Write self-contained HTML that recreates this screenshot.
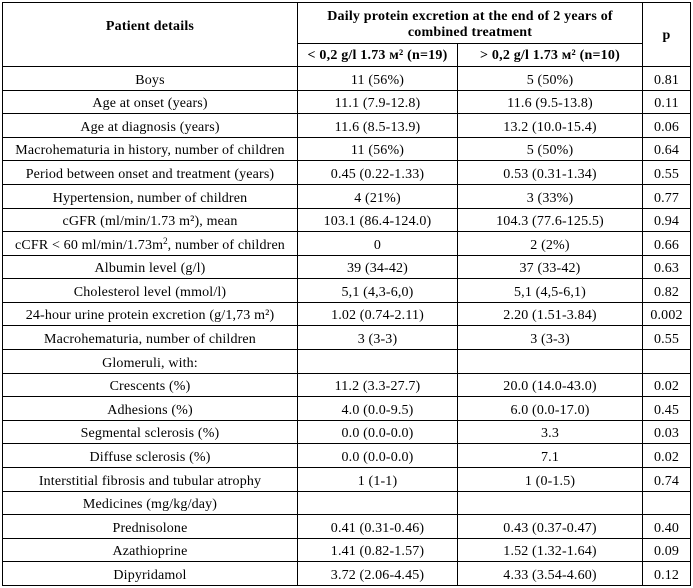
<!DOCTYPE html>
<html><head><meta charset="utf-8">
<style>
html,body{margin:0;padding:0;background:#fff;}
body{width:693px;height:588px;position:relative;overflow:hidden;font-family:"Liberation Serif","Times New Roman",serif;font-size:14px;letter-spacing:0.15px;color:#000;}
.h{position:absolute;height:1px;background:#000;}
.v{position:absolute;width:1px;background:#000;}
.r{position:absolute;left:0;width:693px;}
.r span{position:absolute;top:2px;height:100%;text-align:center;white-space:nowrap;display:flex;align-items:center;justify-content:center;}
.c1{left:3px;width:294px;}
.c2{left:298px;width:159px;}
.c3{left:458px;width:184px;}
.c4{left:643px;width:47px;}
.t{position:absolute;text-align:center;white-space:nowrap;font-weight:bold;line-height:16px;letter-spacing:0.2px;}
.sp{font-size:9px;position:relative;top:-5px;letter-spacing:0;}
</style></head><body>
<div class="v" style="left:2px;top:2px;height:584px"></div>
<div class="v" style="left:297px;top:2px;height:584px"></div>
<div class="v" style="left:457px;top:43px;height:543px"></div>
<div class="v" style="left:642px;top:2px;height:584px"></div>
<div class="v" style="left:690px;top:2px;height:584px"></div>
<div class="h" style="left:2px;width:689px;top:2px"></div>
<div class="h" style="left:297px;width:346px;top:43px"></div>
<div class="h" style="left:2px;width:689px;top:66px"></div>
<div class="h" style="left:2px;width:689px;top:90px"></div>
<div class="h" style="left:2px;width:689px;top:113px"></div>
<div class="h" style="left:2px;width:689px;top:137px"></div>
<div class="h" style="left:2px;width:689px;top:160px"></div>
<div class="h" style="left:2px;width:689px;top:184px"></div>
<div class="h" style="left:2px;width:689px;top:208px"></div>
<div class="h" style="left:2px;width:689px;top:231px"></div>
<div class="h" style="left:2px;width:689px;top:255px"></div>
<div class="h" style="left:2px;width:689px;top:278px"></div>
<div class="h" style="left:2px;width:689px;top:302px"></div>
<div class="h" style="left:2px;width:689px;top:325px"></div>
<div class="h" style="left:2px;width:689px;top:349px"></div>
<div class="h" style="left:2px;width:689px;top:373px"></div>
<div class="h" style="left:2px;width:689px;top:396px"></div>
<div class="h" style="left:2px;width:689px;top:420px"></div>
<div class="h" style="left:2px;width:689px;top:443px"></div>
<div class="h" style="left:2px;width:689px;top:467px"></div>
<div class="h" style="left:2px;width:689px;top:491px"></div>
<div class="h" style="left:2px;width:689px;top:514px"></div>
<div class="h" style="left:2px;width:689px;top:538px"></div>
<div class="h" style="left:2px;width:689px;top:561px"></div>
<div class="h" style="left:2px;width:689px;top:585px"></div>

<div class="t" style="left:3px;width:294px;top:19px">Patient details</div>
<div class="t" style="left:298px;width:344px;top:9px">Daily protein excretion at the end of 2 years of</div>
<div class="t" style="left:298px;width:344px;top:25px">combined treatment</div>
<div class="t" style="left:643px;width:47px;top:28px">p</div>
<div class="t" style="left:298px;width:159px;top:48px">&lt; 0,2 g/l 1.73 м² (n=19)</div>
<div class="t" style="left:458px;width:184px;top:48px">&gt; 0,2 g/l 1.73 м² (n=10)</div>

<div class="r" style="top:67px;height:23px"><span class="c1">Boys</span><span class="c2">11 (56%)</span><span class="c3">5 (50%)</span><span class="c4">0.81</span></div>
<div class="r" style="top:91px;height:22px"><span class="c1">Age at onset (years)</span><span class="c2">11.1 (7.9-12.8)</span><span class="c3">11.6 (9.5-13.8)</span><span class="c4">0.11</span></div>
<div class="r" style="top:114px;height:23px"><span class="c1">Age at diagnosis (years)</span><span class="c2">11.6 (8.5-13.9)</span><span class="c3">13.2 (10.0-15.4)</span><span class="c4">0.06</span></div>
<div class="r" style="top:138px;height:22px"><span class="c1">Macrohematuria in history, number of children</span><span class="c2">11 (56%)</span><span class="c3">5 (50%)</span><span class="c4">0.64</span></div>
<div class="r" style="top:161px;height:23px"><span class="c1">Period between onset and treatment (years)</span><span class="c2">0.45 (0.22-1.33)</span><span class="c3">0.53 (0.31-1.34)</span><span class="c4">0.55</span></div>
<div class="r" style="top:185px;height:23px"><span class="c1">Hypertension, number of children</span><span class="c2">4 (21%)</span><span class="c3">3 (33%)</span><span class="c4">0.77</span></div>
<div class="r" style="top:209px;height:22px"><span class="c1">cGFR (ml/min/1.73 m²), mean</span><span class="c2">103.1 (86.4-124.0)</span><span class="c3">104.3 (77.6-125.5)</span><span class="c4">0.94</span></div>
<div class="r" style="top:232px;height:23px"><span class="c1">cCFR &lt; 60 ml/min/1.73m<b class="sp" style="font-weight:normal">2</b>, number of children</span><span class="c2">0</span><span class="c3">2 (2%)</span><span class="c4">0.66</span></div>
<div class="r" style="top:256px;height:22px"><span class="c1">Albumin level (g/l)</span><span class="c2">39 (34-42)</span><span class="c3">37 (33-42)</span><span class="c4">0.63</span></div>
<div class="r" style="top:279px;height:23px"><span class="c1">Cholesterol level (mmol/l)</span><span class="c2">5,1 (4,3-6,0)</span><span class="c3">5,1 (4,5-6,1)</span><span class="c4">0.82</span></div>
<div class="r" style="top:303px;height:22px"><span class="c1">24-hour urine protein excretion (g/1,73 m²)</span><span class="c2">1.02 (0.74-2.11)</span><span class="c3">2.20 (1.51-3.84)</span><span class="c4">0.002</span></div>
<div class="r" style="top:326px;height:23px"><span class="c1">Macrohematuria, number of children</span><span class="c2">3 (3-3)</span><span class="c3">3 (3-3)</span><span class="c4">0.55</span></div>
<div class="r" style="top:350px;height:23px"><span class="c1">Glomeruli, with:</span><span class="c2"></span><span class="c3"></span><span class="c4"></span></div>
<div class="r" style="top:374px;height:22px"><span class="c1">Crescents (%)</span><span class="c2">11.2 (3.3-27.7)</span><span class="c3">20.0 (14.0-43.0)</span><span class="c4">0.02</span></div>
<div class="r" style="top:397px;height:23px"><span class="c1">Adhesions (%)</span><span class="c2">4.0 (0.0-9.5)</span><span class="c3">6.0 (0.0-17.0)</span><span class="c4">0.45</span></div>
<div class="r" style="top:421px;height:22px"><span class="c1">Segmental sclerosis (%)</span><span class="c2">0.0 (0.0-0.0)</span><span class="c3">3.3</span><span class="c4">0.03</span></div>
<div class="r" style="top:444px;height:23px"><span class="c1">Diffuse sclerosis (%)</span><span class="c2">0.0 (0.0-0.0)</span><span class="c3">7.1</span><span class="c4">0.02</span></div>
<div class="r" style="top:468px;height:23px"><span class="c1">Interstitial fibrosis and tubular atrophy</span><span class="c2">1 (1-1)</span><span class="c3">1 (0-1.5)</span><span class="c4">0.74</span></div>
<div class="r" style="top:492px;height:22px"><span class="c1">Medicines (mg/kg/day)</span><span class="c2"></span><span class="c3"></span><span class="c4"></span></div>
<div class="r" style="top:515px;height:23px"><span class="c1">Prednisolone</span><span class="c2">0.41 (0.31-0.46)</span><span class="c3">0.43 (0.37-0.47)</span><span class="c4">0.40</span></div>
<div class="r" style="top:539px;height:22px"><span class="c1">Azathioprine</span><span class="c2">1.41 (0.82-1.57)</span><span class="c3">1.52 (1.32-1.64)</span><span class="c4">0.09</span></div>
<div class="r" style="top:562px;height:23px"><span class="c1">Dipyridamol</span><span class="c2">3.72 (2.06-4.45)</span><span class="c3">4.33 (3.54-4.60)</span><span class="c4">0.12</span></div>
</body></html>
